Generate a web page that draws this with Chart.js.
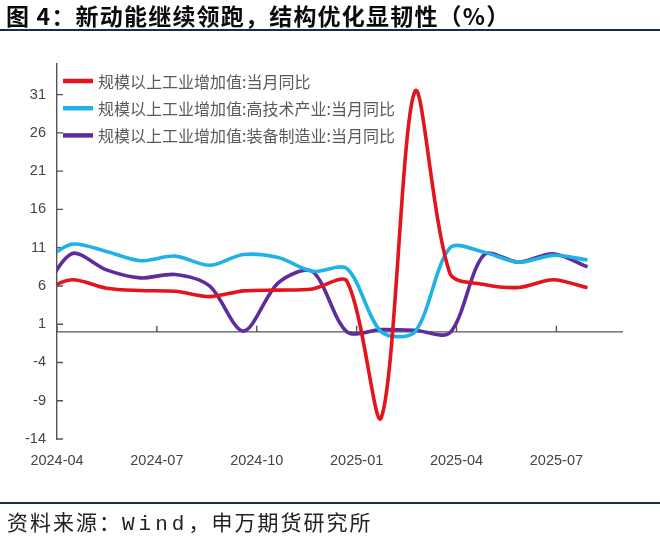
<!DOCTYPE html>
<html>
<head>
<meta charset="utf-8">
<script src="https://cdn.jsdelivr.net/npm/chart.js@4.4.1/dist/chart.umd.min.js"></script>
<style>
  body { margin: 0; background: #fff; }
  #wrap { position: relative; width: 660px; height: 537px; overflow: hidden; }
  #chart { position: absolute; left: 0; top: 0; }
  #title { position: absolute; left: 6px; top: 1px; font: bold 23px 'Noto Sans CJK SC', sans-serif; line-height: 28px; letter-spacing: 1.2px; color: #0a0a0a; white-space: nowrap; }
  .rule { position: absolute; left: 0; width: 660px; height: 2px; background: #1c2a4a; }
  #source { position: absolute; left: 7px; top: 508px; font: 21px 'Noto Sans CJK SC', sans-serif; line-height: 26px; letter-spacing: 2px; color: #222; white-space: nowrap; }
  #source .en { font-family: 'Liberation Mono', monospace; letter-spacing: 4px; }
</style>
</head>
<body>
<div id="wrap">
  <canvas id="chart" width="660" height="537"></canvas>
  <div id="title">图 4：新动能继续领跑，结构优化显韧性（%）</div>
  <div class="rule" style="top:29px"></div>
  <div class="rule" style="top:502px"></div>
  <div id="source">资料来源：<span class="en">Wind</span>，申万期货研究所</div>
</div>
<script>
// data dates as placed on the chart's time axis
const dates = ['2024-03-13', '2024-04-14', '2024-05-16', '2024-06-16', '2024-07-18', '2024-08-19',
    '2024-09-19', '2024-10-21', '2024-11-21', '2024-12-23', '2025-01-24', '2025-02-22',
    '2025-03-26', '2025-04-26', '2025-05-28', '2025-06-28', '2025-07-30'];

const tickLabels = ['2024-04', '2024-07', '2024-10', '2025-01', '2025-04', '2025-07'];
const yTickValues = [-14, -9, -4, 1, 6, 11, 16, 21, 26, 31];

const seriesNames = ['规模以上工业增加值:当月同比', '规模以上工业增加值:高技术产业:当月同比', '规模以上工业增加值:装备制造业:当月同比'];

const totalIva = [5.0, 6.8, 5.7, 5.4, 5.3, 4.6, 5.35, 5.45, 5.6, 6.6, -11.2, 31.4, 7.6, 6.2, 5.8, 6.8, 5.75];
const highTech = [8.5, 11.45, 10.5, 9.3, 9.9, 8.7, 10.1, 9.7, 7.9, 8.25, 0, 0, 11.0, 10.4, 9.1, 10.0, 9.4];
const equipment = [3.5, 10.2, 8.1, 7.05, 7.5, 6.0, 0.1, 6.4, 7.9, 0, 0.3, 0.2, -0.1, 10.1, 9.1, 10.2, 8.5];

const colors = ['#e3141b', '#1fb2e8', '#5f2d9b'];

// months counted from 2024-04-01
function monthIndex(str) {
    const parts = str.split('-').map(Number);
    const y = parts[0], m = parts[1], d = parts[2] || 1;
    const days = new Date(y, m, 0).getDate();
    return (y - 2024) * 12 + (m - 4) + (d - 1) / days;
}

function makeSeries(values) {
    return values.map((v, i) => ({ x: monthIndex(dates[i]), y: v }));
}

const axisMarks = {
    id: 'axisMarks',
    beforeDatasetsDraw(chart) {
        const ctx = chart.ctx;
        const area = chart.chartArea;
        const xs = chart.scales.x;
        const ys = chart.scales.y;
        const y0 = ys.getPixelForValue(0);
        ctx.save();
        ctx.strokeStyle = '#555';
        ctx.lineWidth = 1.4;
        ctx.beginPath();
        ctx.moveTo(area.left, y0);
        ctx.lineTo(area.right, y0);
        xs.ticks.forEach(t => {
            const px = xs.getPixelForValue(t.value);
            ctx.moveTo(px, y0);
            ctx.lineTo(px, y0 - 6);
        });
        ys.ticks.forEach(t => {
            const py = ys.getPixelForValue(t.value);
            ctx.moveTo(area.left, py);
            ctx.lineTo(area.left + 6, py);
        });
        ctx.stroke();
        ctx.restore();
    }
};

const innerLegend = {
    id: 'innerLegend',
    afterDatasetsDraw(chart) {
        const ctx = chart.ctx;
        const area = chart.chartArea;
        ctx.save();
        ctx.font = "16px 'Noto Sans CJK SC', sans-serif";
        ctx.textBaseline = 'middle';
        chart.data.datasets.forEach((ds, i) => {
            const y = area.top + 17 + i * 27.2;
            ctx.strokeStyle = ds.borderColor;
            ctx.lineWidth = 4.5;
            ctx.beginPath();
            ctx.moveTo(area.left + 6, y);
            ctx.lineTo(area.left + 36, y);
            ctx.stroke();
            ctx.fillStyle = '#5a5a5a';
            ctx.fillText(ds.label, area.left + 41, y + 1);
        });
        ctx.restore();
    }
};

Chart.defaults.font.family = "'Liberation Sans', Arial, sans-serif";

new Chart(document.getElementById('chart'), {
    type: 'line',
    data: {
        datasets: [totalIva, highTech, equipment].map((vals, i) => ({
            label: seriesNames[i],
            data: makeSeries(vals),
            borderColor: colors[i],
            backgroundColor: colors[i],
            borderWidth: 3.6,
            pointRadius: 0,
            tension: 0.3,
            fill: false,
            clip: { left: 0, top: false, right: false, bottom: false }
        }))
    },
    options: {
        responsive: false,
        animation: false,
        layout: { padding: { left: 0, right: 37, top: 64, bottom: 68 } },
        plugins: { legend: { display: false }, tooltip: { enabled: false } },
        scales: {
            x: {
                type: 'linear',
                min: 0,
                max: 17,
                afterBuildTicks: scale => {
                    scale.ticks = tickLabels.map(l => ({ value: monthIndex(l) }));
                },
                afterFit: scale => { scale.height = 30; },
                ticks: {
                    autoSkip: false,
                    maxRotation: 0,
                    padding: 13,
                    color: '#444',
                    font: { size: 14.5 },
                    callback: (v, i) => tickLabels[i]
                },
                grid: { display: false, drawTicks: false },
                border: { display: false }
            },
            y: {
                min: -14,
                max: 35,
                afterBuildTicks: scale => {
                    scale.ticks = yTickValues.map(v => ({ value: v }));
                },
                afterFit: scale => { scale.width = 57; },
                ticks: { padding: 11, color: '#444', font: { size: 14.5 }, callback: v => String(v) },
                grid: { display: false, drawTicks: false },
                border: { display: true, color: '#555', width: 1.4 }
            }
        }
    },
    plugins: [axisMarks, innerLegend]
});
</script>
</body>
</html>
